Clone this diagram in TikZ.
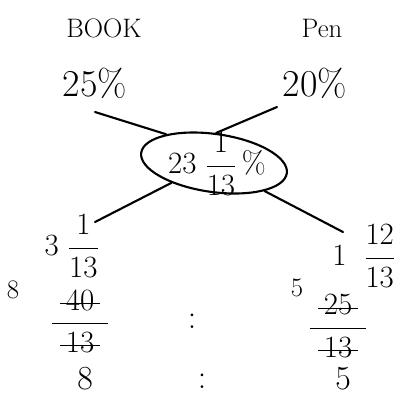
\RequirePackage{fix-cm}
\documentclass[tikz,border=0pt]{standalone}
\usepackage{amsmath}
\usetikzlibrary{shapes.geometric}
\newcommand{\strk}[1]{\setbox0\hbox{#1}\makebox[0pt][l]{\kern-4pt\raisebox{0.45ex}{\rule{\dimexpr\wd0+8pt\relax}{1pt}}}\box0}
\newcommand{\fsz}[1]{\fontsize{#1}{#1}\selectfont}

\begin{document}
\begin{tikzpicture}[x=0.025cm, y=-0.025cm,
  lbl/.style={font=\fsz{19}, inner sep=1pt},
  pct/.style={font=\fsz{27}, inner sep=1pt},
  num/.style={font=\fsz{22}, inner sep=1pt},
  small/.style={font=\fsz{19}, inner sep=1pt},
  big/.style={font=\fsz{24}, inner sep=1pt},
  meanbox/.style={ellipse, draw, line width=1.5pt, inner sep=0pt,
                  minimum width=3.675cm, minimum height=1.45cm, rotate=-8},
  leg/.style={line width=1.5pt, line cap=round}
]
\useasboundingbox (0,0) rectangle (399,397);

% Headings
\node[lbl] (book) at (104,28) {BOOK};
\node[lbl] (pen)  at (322,28) {Pen};

% Profit percentages
\node[pct] (bookpct) at (95,83)  {25\%};
\node[pct] (penpct)  at (315,83) {20\%};

% Mean node
\node[meanbox] (mean) at (214,163) {};
\node[num] (meantxt) at (217,164) {$23\;\dfrac{1}{13}\,\%$};

% Leg ends
\coordinate (booktop) at (95,112);
\coordinate (pentop)  at (277,107);
\coordinate (bookbot) at (95,222);
\coordinate (penbot)  at (343,232);

\draw[leg] (booktop) -- (mean.157);
\draw[leg] (pentop)  -- (mean.94);
\draw[leg] (mean.213) -- (bookbot);
\draw[leg] (mean.339) -- (penbot);

% Differences
\node[num] (bookdiff) at (72,246)  {$3\;\dfrac{1}{13}$};
\node[num] (pendiff)  at (364,256) {$1\;\;\dfrac{12}{13}$};

% Cancelled fractions
\node[small] (bookcut) at (13,290) {8};
\node[num] (bookfrac) at (80,321)
  {$\dfrac{\hspace{10pt}\text{\strk{40}}\hspace{10pt}}{\hspace{10pt}\text{\strk{13}}\hspace{10pt}}$};
\node[big] (colon1) at (192,321) {:};
\node[small] (pencut) at (297,288) {5};
\node[num] (penfrac) at (338,326)
  {$\dfrac{\hspace{10pt}\text{\strk{25}}\hspace{10pt}}{\hspace{10pt}\text{\strk{13}}\hspace{10pt}}$};

% Final ratio
\node[big] (bookratio) at (85,379)  {8};
\node[big] (colon2)    at (202,381) {:};
\node[big] (penratio)  at (343,379) {5};
\end{tikzpicture}
\end{document}
